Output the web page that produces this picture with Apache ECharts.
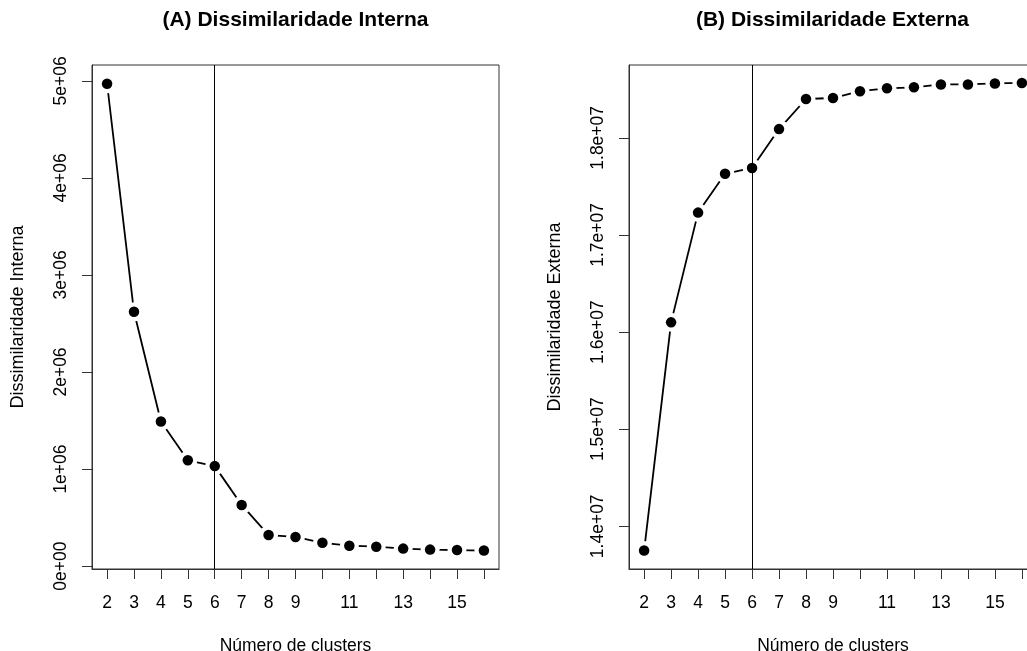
<!DOCTYPE html>
<html>
<head>
<meta charset="utf-8">
<script src="https://cdn.jsdelivr.net/npm/echarts@6/dist/echarts.min.js"></script>
<style>
  html, body { margin: 0; padding: 0; background: #fff; }
  #chart { width: 1027px; height: 651px; }
</style>
</head>
<body>
<div id="chart"></div>
<script>
// dados
var clusters = [2, 3, 4, 5, 6, 7, 8, 9, 10, 11, 12, 13, 14, 15, 16]
var interna = [4970000, 2620000, 1490000, 1090000, 1030000, 630000, 320000, 300000, 240000, 210000, 200000, 180000, 170000, 165000, 160000]
var externa = [13750000, 16100000, 17230000, 17630000, 17690000, 18090000, 18400000, 18410000, 18480000, 18510000, 18520000, 18550000, 18550000, 18560000, 18565000]
var xLabels = [2, 3, 4, 5, 6, 7, 8, 9, 11, 13, 15]
var internaTicks = [0, 1000000, 2000000, 3000000, 4000000, 5000000]
var internaTickLabels = ['0e+00', '1e+06', '2e+06', '3e+06', '4e+06', '5e+06']
var externaTicks = [14000000, 15000000, 16000000, 17000000, 18000000]
var externaTickLabels = ['1.4e+07', '1.5e+07', '1.6e+07', '1.7e+07', '1.8e+07']
var corte = 6

var font = 'Liberation Sans, Arial, Helvetica, sans-serif'
var chart = echarts.init(document.getElementById('chart'))

function pairs(ys) {
  return clusters.map(function (c, i) { return [c, ys[i]] })
}

function xAxis(grid) {
  return {
    type: 'value',
    gridIndex: grid,
    min: 1.44,
    max: 16.56,
    name: 'Número de clusters',
    nameLocation: 'middle',
    nameGap: 68,
    nameTextStyle: { color: '#000', fontSize: 17.5, fontFamily: font },
    axisLine: { show: true, onZero: false, lineStyle: { color: '#333', width: 1 } },
    axisTick: { show: true, length: 10, customValues: clusters, lineStyle: { color: '#333' } },
    axisLabel: { customValues: xLabels, margin: 25, color: '#000', fontSize: 17.5, fontFamily: font },
    splitLine: { show: false }
  }
}

function yAxis(grid, name, min, max, ticks, labels) {
  return {
    type: 'value',
    gridIndex: grid,
    min: min,
    max: max,
    name: name,
    nameLocation: 'middle',
    nameGap: 65,
    nameTextStyle: { color: '#000', fontSize: 18, fontFamily: font },
    axisLine: { show: true, onZero: false, lineStyle: { color: '#333', width: 1 } },
    axisTick: { show: true, length: 10, customValues: ticks, lineStyle: { color: '#333' } },
    axisLabel: {
      customValues: ticks,
      rotate: 90,
      margin: 22,
      color: '#000',
      fontSize: 17.5,
      fontFamily: font,
      formatter: function (v) {
        var i = ticks.indexOf(v)
        return i >= 0 ? labels[i] : ''
      }
    },
    splitLine: { show: false }
  }
}

function series(idx, ys) {
  return [
    {
      type: 'line',
      xAxisIndex: idx,
      yAxisIndex: idx,
      data: pairs(ys),
      symbol: 'circle',
      symbolSize: 19,
      itemStyle: { color: '#fff', opacity: 1 },
      lineStyle: { color: '#000', width: 1.8 },
      z: 2,
      silent: true
    },
    {
      type: 'scatter',
      xAxisIndex: idx,
      yAxisIndex: idx,
      data: pairs(ys),
      symbol: 'circle',
      symbolSize: 10.5,
      itemStyle: { color: '#000', opacity: 1 },
      z: 4,
      silent: true,
      markLine: {
        silent: true,
        symbol: ['none', 'none'],
        label: { show: false },
        lineStyle: { color: '#000', width: 1, type: 'solid', opacity: 1 },
        data: [{ xAxis: corte }]
      }
    }
  ]
}

var option = {
  backgroundColor: '#fff',
  animation: false,
  graphic: [
    {
      type: 'text',
      x: 295.5,
      y: 10,
      style: {
        text: '(A) Dissimilaridade Interna',
        textAlign: 'center',
        fill: '#000',
        font: 'bold 21px ' + font
      }
    },
    {
      type: 'text',
      x: 832.5,
      y: 10,
      style: {
        text: '(B) Dissimilaridade Externa',
        textAlign: 'center',
        fill: '#000',
        font: 'bold 21px ' + font
      }
    }
  ],
  grid: [
    { left: 92, top: 65, width: 407, height: 504, show: true, borderColor: '#333', borderWidth: 1, outerBoundsMode: 'none', containLabel: false },
    { left: 629, top: 65, width: 408, height: 504, show: true, borderColor: '#333', borderWidth: 1, outerBoundsMode: 'none', containLabel: false }
  ],
  xAxis: [xAxis(0), xAxis(1)],
  yAxis: [
    yAxis(0, 'Dissimilaridade Interna', -30000, 5163000, internaTicks, internaTickLabels),
    yAxis(1, 'Dissimilaridade Externa', 13560000, 18750000, externaTicks, externaTickLabels)
  ],
  series: series(0, interna).concat(series(1, externa))
}

chart.setOption(option)
</script>
</body>
</html>
